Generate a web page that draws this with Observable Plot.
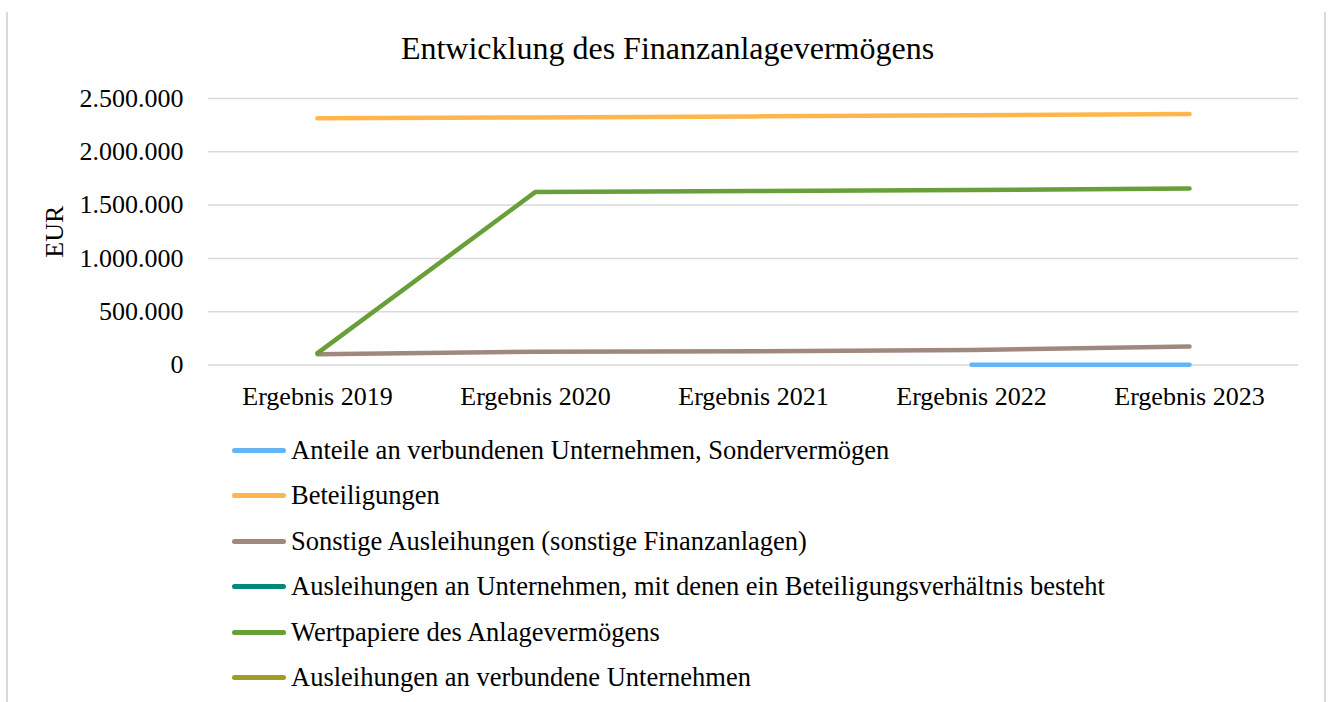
<!DOCTYPE html>
<html>
<head>
<meta charset="utf-8">
<script src="https://cdn.jsdelivr.net/npm/d3@7"></script>
<script src="https://cdn.jsdelivr.net/npm/@observablehq/plot@0.6"></script>
<style>
  html, body { margin: 0; padding: 0; background: #fff; }
  #wrap { position: relative; width: 1335px; height: 702px; overflow: hidden; font-family: "Liberation Serif", "Times New Roman", serif; color: #000; }
  #frame { position: absolute; left: 6px; top: 12px; width: 1320px; height: 700px; border-left: 2px solid #d9d9d9; border-right: 2px solid #d9d9d9; box-sizing: border-box; }
  #title { position: absolute; left: 0; width: 1335px; top: 28px; height: 40px; line-height: 40px; text-align: center; font-size: 32px; }
  #chart { position: absolute; left: 0; top: 70px; }
  #legend { position: absolute; left: 232px; top: 0; }
  .row { position: absolute; left: 0; height: 30px; display: flex; align-items: center; white-space: nowrap; font-size: 26.5px; }
  .sw { display: inline-block; width: 54px; height: 5px; border-radius: 3px; margin-right: 5px; }
</style>
</head>
<body>
<div id="wrap">
  <div id="frame"></div>
  <div id="title">Entwicklung des Finanzanlagevermögens</div>
  <div id="chart"></div>
  <div id="legend"></div>
</div>
<script>
const categories = ["Ergebnis 2019", "Ergebnis 2020", "Ergebnis 2021", "Ergebnis 2022", "Ergebnis 2023"];
const seriesNames = [
  "Anteile an verbundenen Unternehmen, Sondervermögen",
  "Beteiligungen",
  "Sonstige Ausleihungen (sonstige Finanzanlagen)",
  "Ausleihungen an Unternehmen, mit denen ein Beteiligungsverhältnis besteht",
  "Wertpapiere des Anlagevermögens",
  "Ausleihungen an verbundene Unternehmen"
];
const seriesColors = ["#64b5f6", "#ffb74d", "#a1887f", "#00897b", "#689f38", "#9e9d24"];
const anteile      = [null, null, null, 3000, 3000];
const beteiligungen = [2314000, 2322000, 2332000, 2343000, 2354000];
const sonstige     = [100000, 125000, 128000, 140000, 174000];
const ausleihBet   = [null, null, null, null, null];
const wertpapiere  = [111000, 1624000, 1632000, 1642000, 1656000];
const ausleihVerb  = [null, null, null, null, null];
const yTicks = [0, 500000, 1000000, 1500000, 2000000, 2500000];

const seriesValues = [anteile, beteiligungen, sonstige, ausleihBet, wertpapiere, ausleihVerb];
const data = [];
seriesNames.forEach((name, i) => {
  categories.forEach((c, j) => {
    data.push({series: name, category: c, value: seriesValues[i][j]});
  });
});

const de = d3.formatLocale({decimal: ",", thousands: ".", grouping: [3], currency: ["", " €"]});
const fmt = de.format(",.0f");

const plot = Plot.plot({
  width: 1335,
  height: 350,
  marginLeft: 208,
  marginRight: 37,
  marginTop: 28,
  marginBottom: 55.5,
  style: {fontFamily: "Liberation Serif, Times New Roman, serif", fontSize: "26px", color: "#000", background: "transparent"},
  x: {type: "point", domain: categories, padding: 0.5, label: null},
  y: {domain: [0, 2500000], label: null},
  color: {domain: seriesNames, range: seriesColors},
  marks: [
    Plot.ruleY(yTicks, {stroke: "#d9d9d9", strokeWidth: 1.5}),
    Plot.axisY(yTicks, {tickSize: 0, tickPadding: 25, tickFormat: fmt, fontSize: 26, label: null}),
    Plot.axisX({tickSize: 0, tickPadding: 22, fontSize: 26, label: null}),
    Plot.text(["EUR"], {frameAnchor: "left", dx: -154, rotate: -90, textAnchor: "middle", lineAnchor: "middle", fontSize: 26, fill: "#000"}),
    Plot.line(data, {x: "category", y: "value", z: "series", stroke: "series", strokeWidth: 4.5, strokeLinecap: "round", strokeLinejoin: "round"})
  ]
});
document.getElementById("chart").appendChild(plot);

const legend = document.getElementById("legend");
const rowCenters = [450, 495.5, 541, 586.5, 632, 677];
seriesNames.forEach((name, i) => {
  const row = document.createElement("div");
  row.className = "row";
  row.style.top = (rowCenters[i] - 15) + "px";
  const sw = document.createElement("span");
  sw.className = "sw";
  sw.style.background = seriesColors[i];
  const t = document.createElement("span");
  t.textContent = name;
  row.appendChild(sw);
  row.appendChild(t);
  legend.appendChild(row);
});
</script>
</body>
</html>
